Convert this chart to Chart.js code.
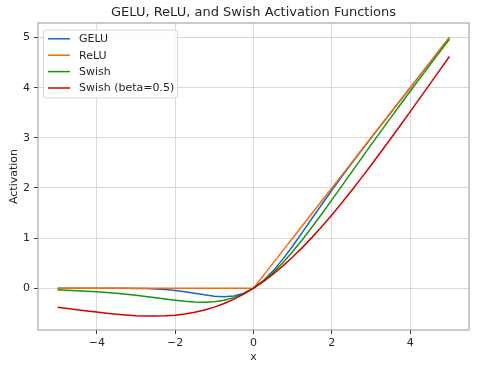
<!DOCTYPE html>
<html>
<head>
<meta charset="utf-8">
<script src="https://cdn.jsdelivr.net/npm/chart.js@4.4.0/dist/chart.umd.min.js"></script>
<style>
  body { margin: 0; background: #fff; }
  canvas { display: block; }
</style>
</head>
<body>
<canvas id="actChart" width="477" height="372"></canvas>
<script>
// x samples (step 0.25 from -5 to 5)
const xValues = [
    -5, -4.75, -4.5, -4.25, -4, -3.75, -3.5, -3.25, -3, -2.75, -2.5, -2.25, -2, -1.75, -1.5, -1.25, -1, -0.75, -0.5, -0.25,
    0, 0.25, 0.5, 0.75, 1, 1.25, 1.5, 1.75, 2, 2.25, 2.5, 2.75, 3, 3.25, 3.5, 3.75, 4, 4.25, 4.5, 4.75, 5
];

const geluValues = [
    0, 0, 0, -0.0001, -0.0001, -0.0003, -0.0008, -0.0019, -0.004, -0.0082, -0.0155, -0.0275, -0.0455, -0.0701, -0.1002, -0.1321, -0.1587, -0.17, -0.1543, -0.1003,
    0, 0.1497, 0.3457, 0.58, 0.8413, 1.1179, 1.3998, 1.6799, 1.9545, 2.2225, 2.4845, 2.7418, 2.996, 3.2481, 3.4992, 3.7497, 3.9999, 4.25, 4.5, 4.75, 5
];

const reluValues = [
    0, 0, 0, 0, 0, 0, 0, 0, 0, 0, 0, 0, 0, 0, 0, 0, 0, 0, 0, 0,
    0, 0.25, 0.5, 0.75, 1, 1.25, 1.5, 1.75, 2, 2.25, 2.5, 2.75, 3, 3.25, 3.5, 3.75, 4, 4.25, 4.5, 4.75, 5
];

const swishValues = [
    -0.0335, -0.0407, -0.0494, -0.0598, -0.0719, -0.0862, -0.1026, -0.1213, -0.1423, -0.1652, -0.1896, -0.2145, -0.2384, -0.2591, -0.2736, -0.2784, -0.2689, -0.2406, -0.1888, -0.1095,
    0, 0.1405, 0.3112, 0.5094, 0.7311, 0.9716, 1.2264, 1.4909, 1.7616, 2.0355, 2.3104, 2.5848, 2.8577, 3.1287, 3.3974, 3.6638, 3.9281, 4.1902, 4.4506, 4.7093, 4.9665
];

const swishHalfValues = [
    -0.3793, -0.4042, -0.4291, -0.4534, -0.4768, -0.4986, -0.5182, -0.5347, -0.5473, -0.555, -0.5568, -0.5515, -0.5379, -0.5149, -0.4812, -0.4358, -0.3775, -0.3055, -0.2189, -0.1172,
    0, 0.1328, 0.2811, 0.4445, 0.6225, 0.8142, 1.0188, 1.2351, 1.4621, 1.6985, 1.9433, 2.195, 2.4527, 2.7153, 2.9818, 3.2514, 3.5232, 3.7966, 4.0709, 4.3457, 4.6207
];

const seriesLabels = ['GELU', 'ReLU', 'Swish', 'Swish (beta=0.5)'];
const seriesColors = ['#1a66c4', '#ff6a00', '#119611', '#d40000'];
const xTicks = [-4, -2, 0, 2, 4];
const yTicks = [0, 1, 2, 3, 4, 5];
const chartTitle = 'GELU, ReLU, and Swish Activation Functions';

const FONT = 'DejaVu Sans';

function toPoints(ys) {
    return xValues.map((x, i) => ({ x: x, y: ys[i] }));
}

// matplotlib-style minus sign
function fmtTick(v) {
    return String(v).replace('-', '\u2212');
}

// title centred on the plot area, frame on all four sides, legend in upper left
const framePlugin = {
    id: 'frame',
    afterDraw(chart) {
        const { ctx, chartArea: a } = chart;
        ctx.save();

        ctx.font = '13px "' + FONT + '"';
        ctx.fillStyle = '#262626';
        ctx.textAlign = 'center';
        ctx.textBaseline = 'middle';
        ctx.fillText(chartTitle, (a.left + a.right) / 2, 13);

        ctx.strokeStyle = '#a8a8a8';
        ctx.lineWidth = 1.2;
        ctx.strokeRect(a.left, a.top, a.right - a.left, a.bottom - a.top);

        // legend
        const lx = 43.5, ly = 30, lw = 134, lh = 68;
        ctx.fillStyle = 'rgba(255,255,255,0.85)';
        ctx.strokeStyle = '#d6d6d6';
        ctx.lineWidth = 1;
        ctx.beginPath();
        ctx.roundRect(lx, ly, lw, lh, 3);
        ctx.fill();
        ctx.stroke();

        ctx.font = '11px "' + FONT + '"';
        ctx.textAlign = 'left';
        chart.data.datasets.forEach((ds, i) => {
            const y = 38.8 + i * 16.4;
            ctx.strokeStyle = ds.borderColor;
            ctx.lineWidth = 1.5;
            ctx.beginPath();
            ctx.moveTo(48, y);
            ctx.lineTo(70, y);
            ctx.stroke();
            ctx.fillStyle = '#262626';
            ctx.fillText(ds.label, 79, y + 0.5);
        });
        ctx.restore();
    }
};

const datasets = [geluValues, reluValues, swishValues, swishHalfValues].map((vals, i) => ({
    label: seriesLabels[i],
    data: toPoints(vals),
    borderColor: seriesColors[i],
    backgroundColor: seriesColors[i],
    borderWidth: 1.5,
    pointRadius: 0,
    tension: 0,
    fill: false,
    order: 3 - i
}));

new Chart(document.getElementById('actChart'), {
    type: 'line',
    data: { datasets: datasets },
    options: {
        responsive: false,
        animation: false,
        layout: { padding: { left: 0, right: 8, top: 23, bottom: 0 } },
        plugins: {
            legend: { display: false },
            tooltip: { enabled: false },
            title: { display: false }
        },
        scales: {
            x: {
                type: 'linear',
                min: -5.5,
                max: 5.5,
                afterBuildTicks: s => { s.ticks = xTicks.map(v => ({ value: v })); },
                afterFit: s => { s.height = 42; },
                grid: { color: '#d9d9d9', lineWidth: 1, tickColor: '#333', tickLength: 4 },
                border: { display: false },
                ticks: {
                    color: '#262626',
                    font: { family: FONT, size: 11 },
                    padding: 3,
                    maxRotation: 0,
                    callback: v => fmtTick(v)
                },
                title: {
                    display: true,
                    text: 'x',
                    color: '#262626',
                    font: { family: FONT, size: 11 },
                    padding: { top: 2, bottom: 8 }
                }
            },
            y: {
                type: 'linear',
                min: -0.834,
                max: 5.29,
                afterBuildTicks: s => { s.ticks = yTicks.map(v => ({ value: v })); },
                afterFit: s => { s.width = 38; },
                grid: { color: '#d9d9d9', lineWidth: 1, tickColor: '#333', tickLength: 4 },
                border: { display: false },
                ticks: {
                    color: '#262626',
                    font: { family: FONT, size: 11 },
                    padding: 4,
                    callback: v => fmtTick(v)
                },
                title: {
                    display: true,
                    text: 'Activation',
                    color: '#262626',
                    font: { family: FONT, size: 11 },
                    padding: { top: 8, bottom: 2 }
                }
            }
        }
    },
    plugins: [framePlugin]
});
</script>
</body>
</html>
